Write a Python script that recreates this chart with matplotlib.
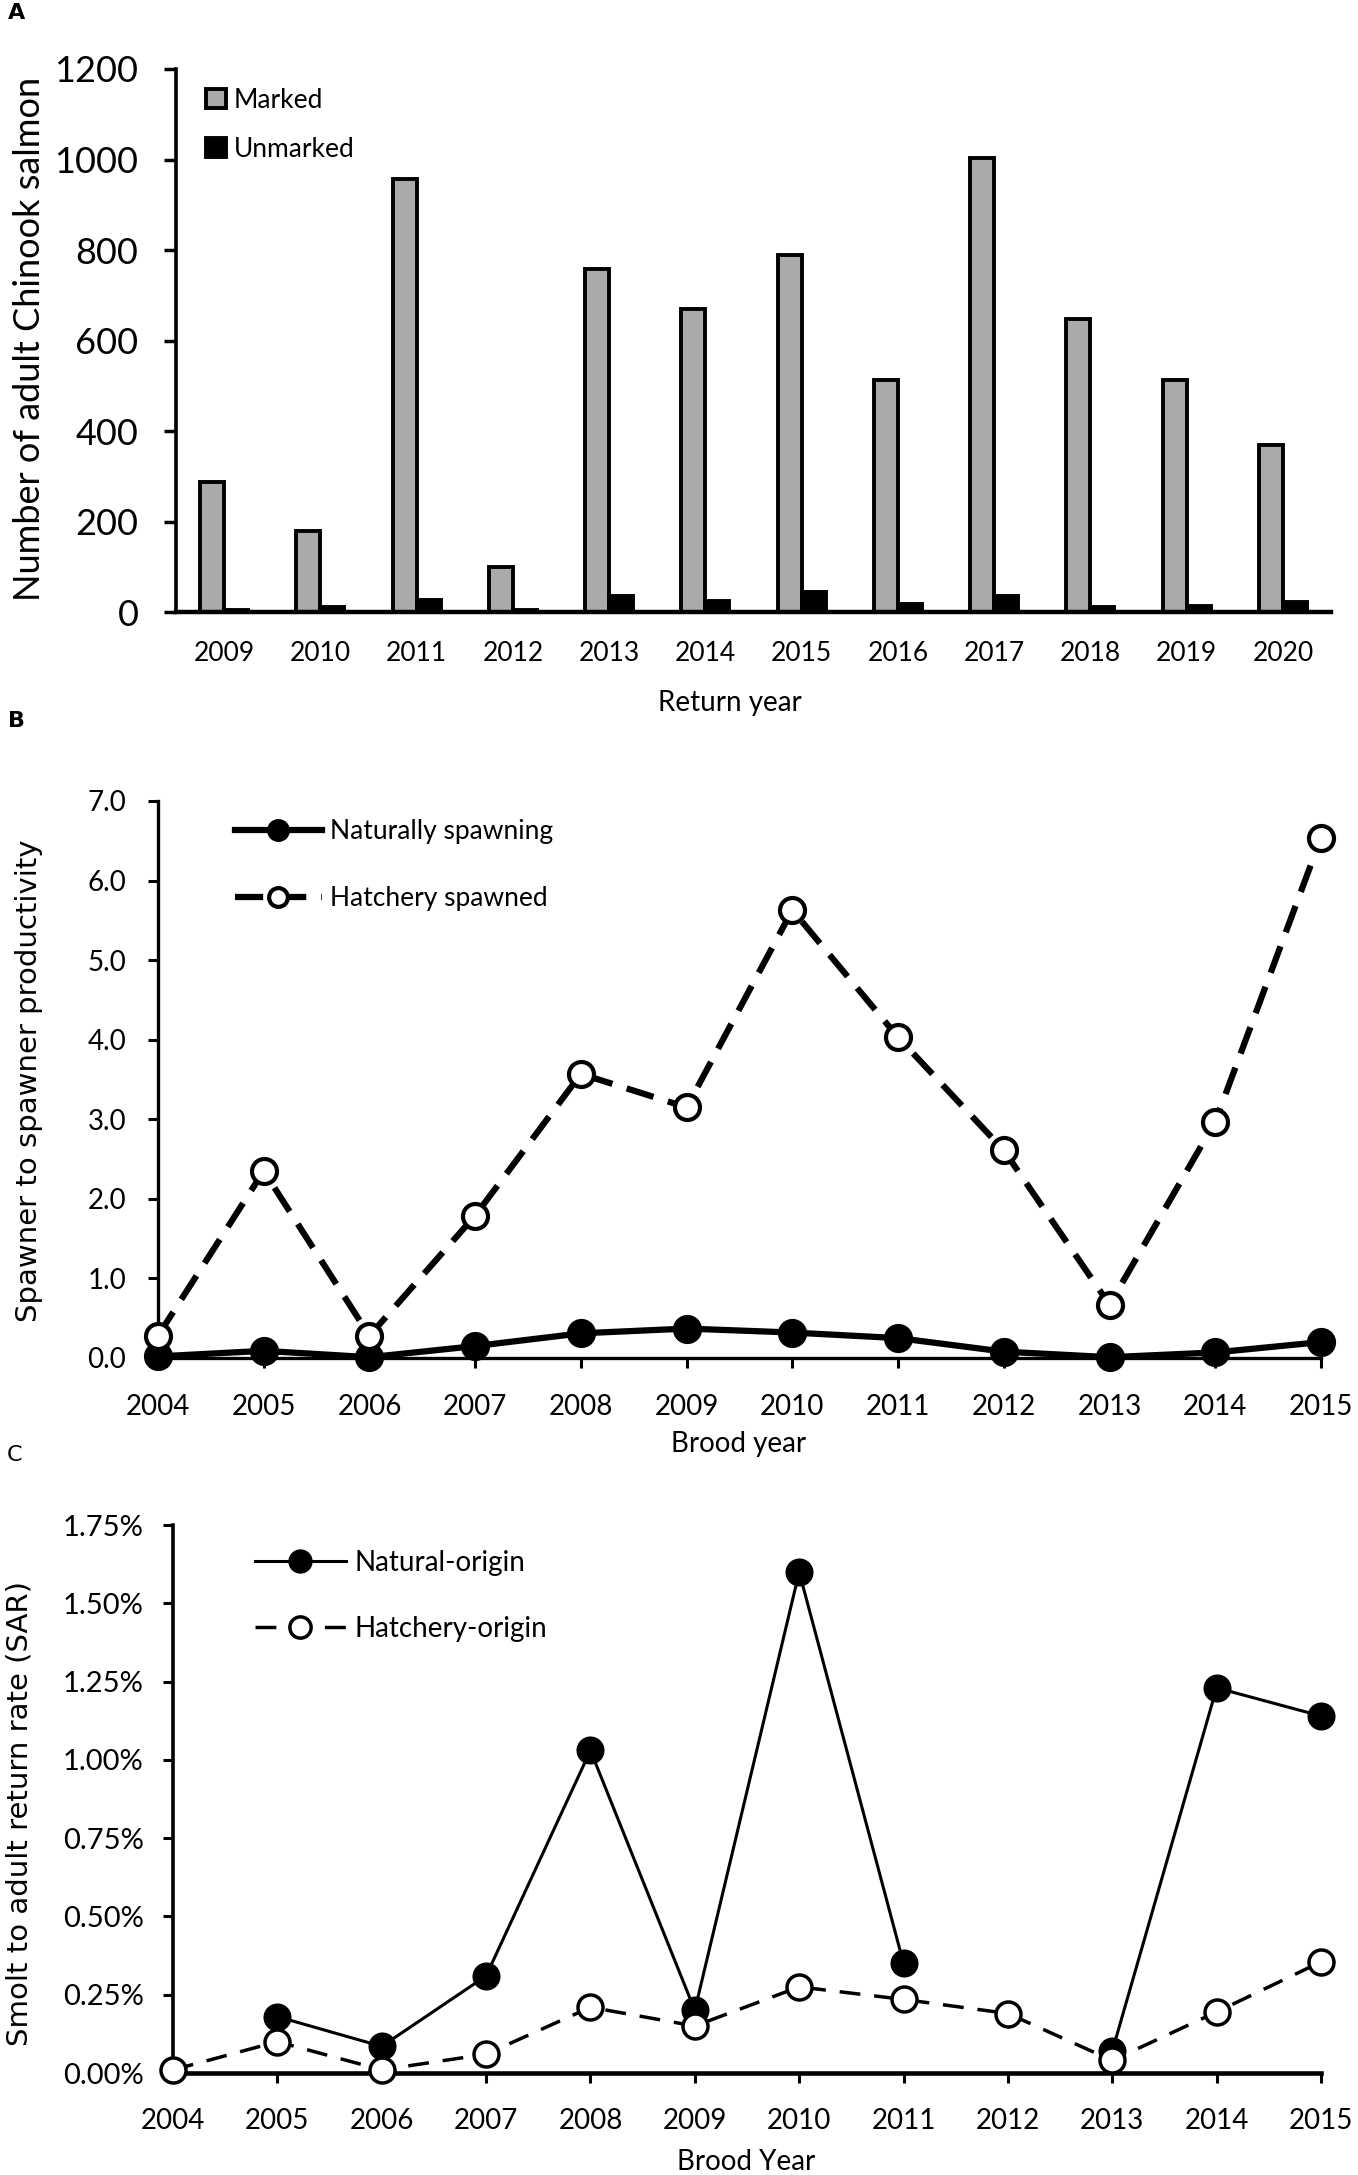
import matplotlib.pyplot as plt
import numpy as np
from matplotlib.ticker import FuncFormatter

plt.rcParams['font.family'] = ['Lato', 'DejaVu Sans']

# panel A: adult returns by return year
return_years = ['2009', '2010', '2011', '2012', '2013', '2014',
                '2015', '2016', '2017', '2018', '2019', '2020']
marked = [288, 178, 958, 100, 758, 670, 790, 512, 1004, 648, 512, 368]
unmarked = [5, 10, 27, 5, 35, 24, 45, 17, 35, 10, 14, 22]

# panel B: spawner to spawner productivity by brood year
brood_years = [2004, 2005, 2006, 2007, 2008, 2009,
               2010, 2011, 2012, 2013, 2014, 2015]
natural_ssp = [0.02, 0.09, 0.01, 0.15, 0.31, 0.37, 0.32, 0.25, 0.08, 0.01, 0.07, 0.20]
hatchery_ssp = [0.28, 2.35, 0.28, 1.79, 3.57, 3.15, 5.63, 4.03, 2.61, 0.67, 2.97, 6.54]

# panel C: smolt to adult return rate (%)
natural_sar = [np.nan, 0.18, 0.085, 0.31, 1.03, 0.20, 1.60, 0.35, np.nan, 0.07, 1.23, 1.14]
hatchery_sar = [0.01, 0.10, 0.01, 0.06, 0.21, 0.15, 0.275, 0.235, 0.19, 0.04, 0.195, 0.355]

W, H = 1358, 2175
fig = plt.figure(figsize=(W / 100, H / 100), dpi=100)


def px_axes(left, top, right, bottom):
    return fig.add_axes([left / W, 1 - bottom / H, (right - left) / W, (bottom - top) / H])


def px_text(x, y, s, **kw):
    fig.text(x / W, 1 - y / H, s, ha='center', va='center', **kw)


def clean(ax, lw_left, lw_bottom):
    ax.spines['top'].set_visible(False)
    ax.spines['right'].set_visible(False)
    ax.spines['left'].set_linewidth(lw_left)
    ax.spines['bottom'].set_linewidth(lw_bottom)


# ---- A ----
ax_a = px_axes(176, 69, 1331, 612)
x = np.arange(len(return_years))
ax_a.bar(x - 0.125, marked, 0.25, color='#aaaaaa', edgecolor='black', linewidth=2.8, label='Marked')
ax_a.bar(x + 0.125, unmarked, 0.25, color='black', edgecolor='black', linewidth=2.8, label='Unmarked')
ax_a.set_xlim(-0.5, len(return_years) - 0.5)
ax_a.set_ylim(0, 1200)
ax_a.set_yticks(range(0, 1201, 200))
ax_a.set_xticks(x, return_years)
ax_a.tick_params(axis='x', length=0, pad=21, labelsize=19)
ax_a.tick_params(axis='y', length=9, width=2.5, pad=18, labelsize=26)
clean(ax_a, 2.6, 3.2)
ax_a.legend(loc='upper left', bbox_to_anchor=(0.026, 0.965), frameon=False, fontsize=19,
            handlelength=0.75, handleheight=0.75, handletextpad=0.3, labelspacing=0.9,
            borderpad=0, borderaxespad=0)
px_text(30, 339, 'Number of adult Chinook salmon', rotation=90, fontsize=26)
px_text(730, 703, 'Return year', fontsize=20)
px_text(17, 13, 'A', fontsize=16, fontweight='bold', family='DejaVu Sans')

# ---- B ----
ax_b = px_axes(158, 801, 1321, 1358)
ax_b.plot(brood_years, natural_ssp, color='black', lw=4.5, marker='o', ms=18, mfc='black',
          mec='black', mew=3, clip_on=False, label='Naturally spawning', zorder=3)
ax_b.plot(brood_years, hatchery_ssp, color='black', lw=4.5, dashes=(4.5, 2.4), marker='o', ms=18,
          mfc='white', mec='black', mew=3, clip_on=False, label='Hatchery spawned', zorder=4)
ax_b.set_xlim(2004, 2015)
ax_b.set_ylim(0, 7)
ax_b.set_xticks(brood_years)
ax_b.set_yticks(np.arange(0, 7.01, 1.0))
ax_b.yaxis.set_major_formatter(FuncFormatter(lambda v, p: f'{v:.1f}'))
ax_b.tick_params(axis='x', length=7, width=2.2, pad=19, labelsize=20)
ax_b.tick_params(axis='y', length=7, width=2.2, pad=16, labelsize=20)
clean(ax_b, 2.4, 2.4)
ax_b.legend(loc='upper left', bbox_to_anchor=(0.066, 0.968), frameon=False, fontsize=19,
            handlelength=3.3, handletextpad=0.3, labelspacing=1.6, markerscale=0.75,
            borderpad=0, borderaxespad=0)
px_text(29, 1081, 'Spawner to spawner productivity', rotation=90, fontsize=21, family='DejaVu Sans')
px_text(739, 1444, 'Brood year', fontsize=20)
px_text(17, 721, 'B', fontsize=16, fontweight='bold', family='DejaVu Sans')

# ---- C ----
ax_c = px_axes(173, 1525, 1321, 2073)
ax_c.plot(brood_years, natural_sar, color='black', lw=2.2, marker='o', ms=18, mfc='black',
          mec='black', mew=2.2, clip_on=False, label='Natural-origin', zorder=3)
ax_c.plot(brood_years, hatchery_sar, color='black', lw=2.5, dashes=(6, 4), marker='o', ms=18,
          mfc='white', mec='black', mew=2.5, clip_on=False, label='Hatchery-origin', zorder=4)
ax_c.set_xlim(2004, 2015)
ax_c.set_ylim(0, 1.75)
ax_c.set_xticks(brood_years)
ax_c.set_yticks(np.arange(0, 1.76, 0.25))
ax_c.yaxis.set_major_formatter(FuncFormatter(lambda v, p: f'{v:.2f}%'))
ax_c.tick_params(axis='x', length=7, width=2.2, pad=18, labelsize=20)
ax_c.tick_params(axis='y', length=7, width=2.2, pad=14, labelsize=21)
clean(ax_c, 2.6, 3.3)
ax_c.legend(loc='upper left', bbox_to_anchor=(0.071, 0.955), frameon=False, fontsize=20,
            handlelength=3.3, handletextpad=0.3, labelspacing=1.45, markerscale=0.85,
            borderpad=0, borderaxespad=0)
px_text(20, 1814, 'Smolt to adult return rate (SAR)', rotation=90, fontsize=21, family='DejaVu Sans')
px_text(746, 2162, 'Brood Year', fontsize=20)
px_text(14, 1455, 'C', fontsize=16, family='DejaVu Sans')

fig.savefig('out.png', dpi=100)
